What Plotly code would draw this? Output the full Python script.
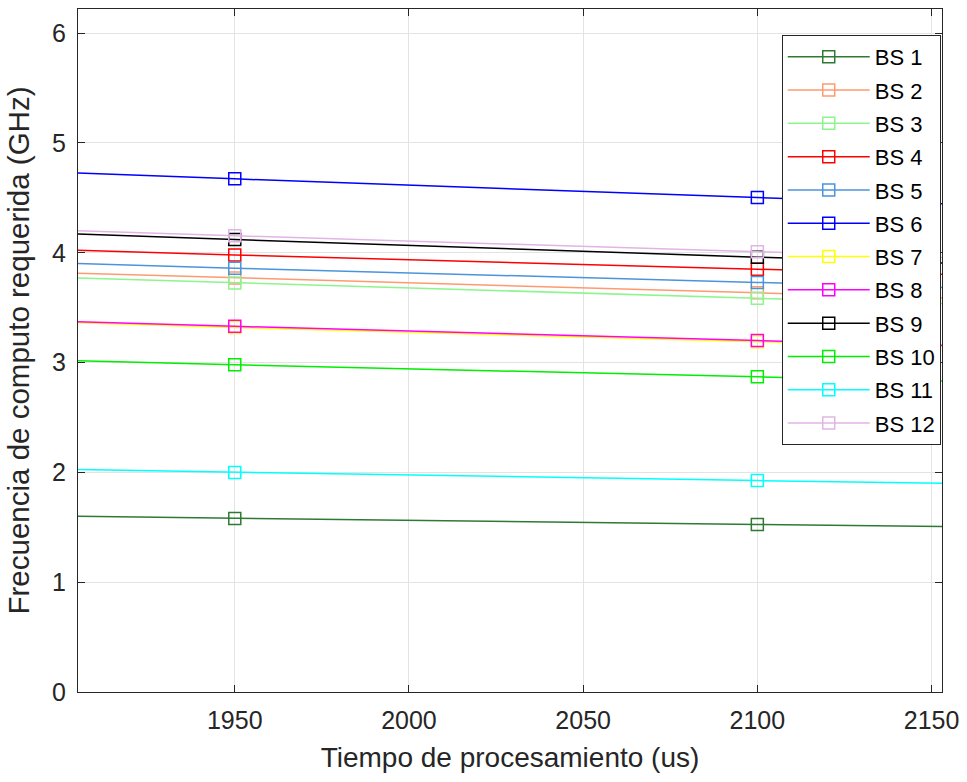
import plotly.graph_objects as go

# Processing time samples (us)
tiempo_us = [1800, 1950, 2100, 2250]

# Required computing frequency per base station (GHz)
bs1 = [1.640, 1.580, 1.525, 1.473]
bs2 = [3.910, 3.770, 3.635, 3.505]
bs3 = [3.870, 3.725, 3.585, 3.450]
bs4 = [4.120, 3.980, 3.850, 3.720]
bs5 = [4.000, 3.860, 3.730, 3.600]
bs6 = [4.850, 4.673, 4.503, 4.340]
bs7 = [3.460, 3.320, 3.190, 3.070]
bs8 = [3.470, 3.330, 3.200, 3.080]
bs9 = [4.290, 4.120, 3.960, 3.810]
bs10 = [3.100, 2.980, 2.870, 2.760]
bs11 = [2.080, 2.000, 1.925, 1.855]
bs12 = [4.310, 4.155, 4.010, 3.860]

series = [bs1, bs2, bs3, bs4, bs5, bs6, bs7, bs8, bs9, bs10, bs11, bs12]
names = ["BS 1", "BS 2", "BS 3", "BS 4", "BS 5", "BS 6",
         "BS 7", "BS 8", "BS 9", "BS 10", "BS 11", "BS 12"]
colors = ["#2f7a33", "#ff9a70", "#8cf58c", "#ff0000", "#4a94dc", "#0000ff",
          "#ffff00", "#ff00ff", "#000000", "#00ee00", "#00ffff", "#e2b4e6"]

x_ticks = [1950, 2000, 2050, 2100, 2150]
y_ticks = [0, 1, 2, 3, 4, 5, 6]

FONT = "Liberation Sans, Arial, Helvetica, sans-serif"
AX = "#262626"

fig = go.Figure()
for name, vals, col in zip(names, series, colors):
    fig.add_trace(go.Scatter(
        x=tiempo_us, y=vals, name=name, legendgroup=name,
        mode="lines+markers",
        line=dict(color=col, width=1.5),
        marker=dict(symbol="square-open", size=12, color=col,
                    line=dict(color=col, width=1.5)),
    ))

axis_common = dict(
    showline=True, linecolor=AX, linewidth=1, mirror="ticks",
    ticks="inside", ticklen=7, tickcolor=AX, tickwidth=1,
    showgrid=True, gridcolor="#e3e3e3", gridwidth=1,
    zeroline=False,
    tickfont=dict(family=FONT, size=25, color=AX),
)

fig.update_xaxes(
    range=[1905, 2153], tickvals=x_ticks,
    title=dict(text="Tiempo de procesamiento (us)",
               font=dict(family=FONT, size=28, color=AX), standoff=14),
    ticklabelstandoff=6,
    **axis_common,
)
fig.update_yaxes(
    range=[0, 6.22], tickvals=y_ticks,
    title=dict(text="Frecuencia de computo requerida (GHz)",
               font=dict(family=FONT, size=29.5, color=AX), standoff=13),
    ticklabelstandoff=6,
    **axis_common,
)

fig.update_layout(
    width=967, height=782,
    margin=dict(l=78, r=21, t=8, b=90),
    paper_bgcolor="white", plot_bgcolor="white",
    showlegend=True,
    legend=dict(
        x=0.8145, y=0.962, xanchor="left", yanchor="top",
        bgcolor="white", bordercolor=AX, borderwidth=1,
        font=dict(family=FONT, size=22, color="#000000"),
        itemwidth=82, tracegroupgap=1.7,
        entrywidth=80, entrywidthmode="pixels",
    ),
)

fig.write_html("out.html")
